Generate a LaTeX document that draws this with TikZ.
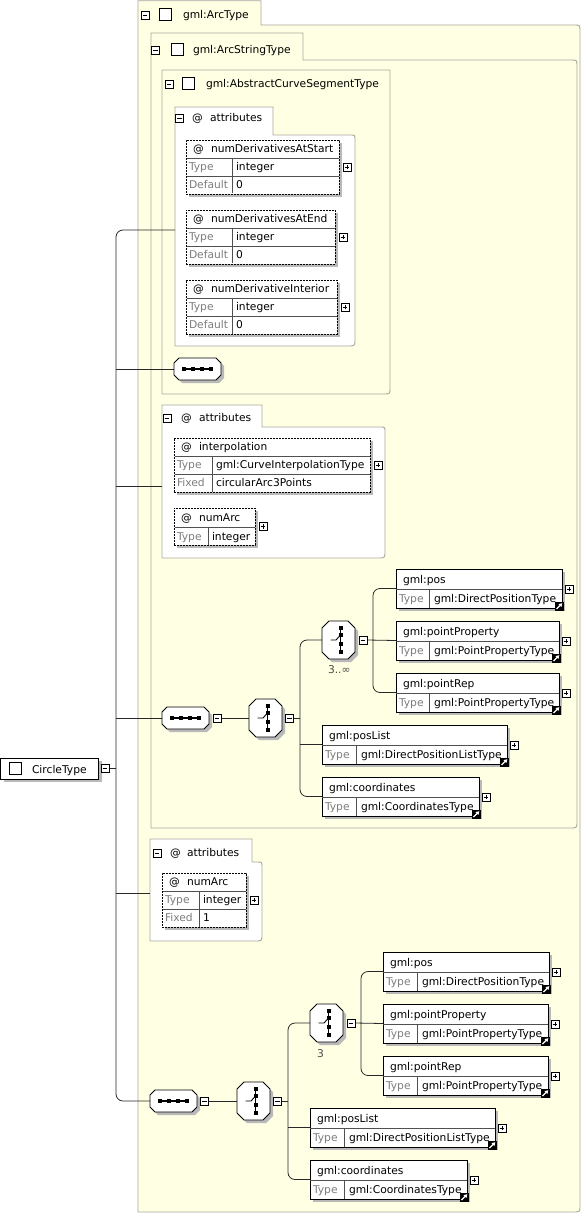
\documentclass[tikz,border=0pt]{standalone}
\usepackage{fontspec}
\setmainfont{DejaVu Sans}
\usetikzlibrary{arrows.meta}
\definecolor{framefill}{RGB}{255,255,228}
\definecolor{frameline}{RGB}{168,168,158}
\definecolor{shadowc}{RGB}{185,185,185}
\definecolor{labelgray}{RGB}{125,125,125}
\definecolor{connc}{RGB}{40,40,40}
\definecolor{innerc}{RGB}{80,80,80}
\pgfdeclarelayer{back}
\pgfdeclarelayer{mid}
\pgfsetlayers{back,mid,main}
\tikzset{
  every node/.style={font=\fontsize{10.7}{12}\selectfont, inner sep=0pt, outer sep=0pt},
  frame/.style={draw=frameline, fill=framefill, line width=0.9pt},
  group/.style={draw=frameline, fill=white, line width=0.9pt},
  conn/.style={draw=connc, line width=0.8pt},
  elbox/.style={draw=black, fill=white, line width=0.8pt},
  attbox/.style={draw=black, fill=white, line width=0.8pt, dash pattern=on 1.6pt off 1.4pt},
  innerline/.style={draw=innerc, line width=0.7pt},
  octo/.style={draw=black, fill=white, line width=0.8pt},
  pmbox/.style={draw=black, fill=white, line width=0.6pt, minimum size=8pt},
  chkbox/.style={draw=black, fill=white, line width=0.8pt, minimum size=11.5pt},
  graytext/.style={text=labelgray},
}
\newcommand\minusb[3]{\node[pmbox] (#1) at (#2,#3) {};
  \draw[line width=0.8pt] ([xshift=-2.4pt]#1.center) -- ([xshift=2.4pt]#1.center);}
\newcommand\plusb[3]{\node[pmbox] (#1) at (#2,#3) {};
  \draw[line width=0.8pt] ([xshift=-2.4pt]#1.center) -- ([xshift=2.4pt]#1.center)
    ([yshift=-2.4pt]#1.center) -- ([yshift=2.4pt]#1.center);}
% element: name x y w col title type
\newcommand\elemx[7]{%
  \fill[shadowc] (#2+3,#3+3) rectangle (#2+#4+3,#3+42);
  \node[elbox, minimum width=#4pt, minimum height=39pt, anchor=north west] (#1) at (#2,#3) {};
  \draw[innerline] (#2,#3+20) -- (#2+#4,#3+20) (#2+#5,#3+20) -- (#2+#5,#3+39);
  \node[anchor=base west] (#1-t) at (#2+7,#3+14) {#6};
  \node[anchor=base west, graytext] (#1-k) at (#2+3,#3+33) {Type};
  \node[anchor=base west] (#1-v) at (#2+#5+5,#3+33) {#7};
  \plusb{#1-p}{#2+#4+7}{#3+20}
  \fill[black] (#2+#4-7.5,#3+32.5) rectangle (#2+#4+2,#3+42);
  \draw[white, line width=1.1pt, -{Triangle[length=3.4pt,width=4pt]}] (#2+#4-5.5,#3+40) -- (#2+#4+0.3,#3+34.2);
}
% attribute (3 rows): name x y w col title key val type
\newcommand\attrx[9]{%
  \fill[shadowc] (#2+3,#3+3) rectangle (#2+#4+3,#3+57);
  \node[attbox, minimum width=#4pt, minimum height=54pt, anchor=north west] (#1) at (#2,#3) {};
  \draw[innerline] (#2+0.5,#3+18) -- (#2+#4-0.5,#3+18) (#2+0.5,#3+36) -- (#2+#4-0.5,#3+36)
    (#2+#5,#3+18) -- (#2+#5,#3+53.5);
  \node[anchor=base west] (#1-a) at (#2+7,#3+12.5) {@};
  \node[anchor=base west] (#1-t) at (#2+25,#3+12.5) {#6};
  \node[anchor=base west, graytext] (#1-k1) at (#2+3,#3+30.5) {Type};
  \node[anchor=base west] (#1-v1) at (#2+#5+4,#3+30.5) {#9};
  \node[anchor=base west, graytext] (#1-k2) at (#2+3,#3+48.5) {#7};
  \node[anchor=base west] (#1-v2) at (#2+#5+4,#3+48.5) {#8};
  \plusb{#1-p}{#2+#4+8}{#3+27}
}
% attribute (2 rows): name x y w col title type
\newcommand\attrxx[7]{%
  \fill[shadowc] (#2+3,#3+3) rectangle (#2+#4+3,#3+40);
  \node[attbox, minimum width=#4pt, minimum height=37pt, anchor=north west] (#1) at (#2,#3) {};
  \draw[innerline] (#2+0.5,#3+19) -- (#2+#4-0.5,#3+19) (#2+#5,#3+19) -- (#2+#5,#3+36.5);
  \node[anchor=base west] (#1-a) at (#2+7,#3+13) {@};
  \node[anchor=base west] (#1-t) at (#2+25,#3+13) {#6};
  \node[anchor=base west, graytext] (#1-k1) at (#2+3,#3+32) {Type};
  \node[anchor=base west] (#1-v1) at (#2+#5+4,#3+32) {#7};
  \plusb{#1-p}{#2+#4+8}{#3+18.5}
}
% octagon: name x y w h c
\newcommand\octx[6]{%
  \begin{scope}[shift={(3,3)}]
  \fill[shadowc] (#2+#6,#3) -- (#2+#4-#6,#3) -- (#2+#4,#3+#6) -- (#2+#4,#3+#5-#6) -- (#2+#4-#6,#3+#5) -- (#2+#6,#3+#5) -- (#2,#3+#5-#6) -- (#2,#3+#6) -- cycle;
  \end{scope}
  \draw[octo] (#2+#6,#3) -- (#2+#4-#6,#3) -- (#2+#4,#3+#6) -- (#2+#4,#3+#5-#6) -- (#2+#4-#6,#3+#5) -- (#2+#6,#3+#5) -- (#2,#3+#5-#6) -- (#2,#3+#6) -- cycle;
  \node[minimum width=#4pt, minimum height=#5pt, anchor=north west] (#1) at (#2,#3) {};
}
\newcommand\seqicon[1]{%
  \draw[line width=1.1pt] ([xshift=-14pt]#1.center) -- ([xshift=14pt]#1.center);
  \foreach \d in {-13.5,-4.5,4.5,13.5}
    \fill ([xshift=\d pt]#1.center) ++(-2pt,-2pt) rectangle ++(4pt,4pt);
}
\newcommand\choiceicon[1]{%
  \draw[line width=1.1pt] ([xshift=2pt,yshift=12pt]#1.center) -- ([xshift=2pt,yshift=-12pt]#1.center);
  \foreach \d in {12,5,-3.5,-12}
    \fill ([xshift=2pt,yshift=\d pt]#1.center) ++(-2pt,-2pt) rectangle ++(4pt,4pt);
  \draw[line width=0.9pt] ([xshift=-8pt]#1.center) -- ([xshift=-2.5pt]#1.center) -- ([xshift=2pt,yshift=5pt]#1.center);
}
\begin{document}
\begin{tikzpicture}[x=1pt,y=-1pt]
\useasboundingbox (0,0) rectangle (582,1214);
% ---------- frames ----------
\begin{pgfonlayer}{back}
\draw[frame] (138,0.8) -- (261,0.8) -- (261,25) -- (574,25) .. controls (580,25) .. (580,31)
  -- (580,1205) .. controls (580,1212) .. (573,1212) -- (138,1212) -- cycle;
\draw[frame] (151,33) -- (303,33) -- (303,60) -- (571,60) .. controls (577,60) .. (577,66)
  -- (577,821) .. controls (577,828) .. (570,828) -- (151,828) -- cycle;
\draw[frame] (162,70) -- (390,70) -- (390,388) .. controls (390,394) .. (384,394) -- (162,394) -- cycle;
\draw[group] (175,107) -- (273,107) -- (273,135) -- (350,135) .. controls (355,135) .. (355,140)
  -- (355,339) .. controls (355,346) .. (348,346) -- (175,346) -- cycle;
\draw[group] (162,405) -- (262,405) -- (262,427) -- (380,427) .. controls (385,427) .. (385,432)
  -- (385,551) .. controls (385,558) .. (378,558) -- (162,558) -- cycle;
\draw[group] (150,839) -- (252,839) -- (252,862) -- (257,862) .. controls (262,862) .. (262,867)
  -- (262,934) .. controls (262,941) .. (255,941) -- (150,941) -- cycle;
\end{pgfonlayer}
% ---------- frame tabs ----------
\minusb{f1m}{145}{15}
\node[chkbox] (f1c) at (165.5,14.5) {};
\node[anchor=base west] (f1t) at (183,18.5) {gml:ArcType};
\minusb{f2m}{155.5}{50}
\node[chkbox] (f2c) at (177.5,49.5) {};
\node[anchor=base west] (f2t) at (193,53.5) {gml:ArcStringType};
\minusb{f3m}{169}{84}
\node[chkbox] (f3c) at (188.5,83.5) {};
\node[anchor=base west] (f3t) at (206,88) {gml:AbstractCurveSegmentType};
% ---------- attribute groups ----------
\minusb{g1m}{179.5}{118}
\node[anchor=base west] (g1a) at (192,122) {@};
\node[anchor=base west] (g1t) at (210,122) {attributes};
\minusb{g2m}{167}{418}
\node[anchor=base west] (g2a) at (181,421.5) {@};
\node[anchor=base west] (g2t) at (199,421.5) {attributes};
\minusb{g3m}{157}{853}
\node[anchor=base west] (g3a) at (170,856.5) {@};
\node[anchor=base west] (g3t) at (187,856.5) {attributes};
\coordinate (g1c) at (175,230);
\coordinate (g2c) at (162,486);
\coordinate (g3c) at (150,893);
% ---------- attributes ----------
\attrx{a1}{186}{140}{153}{46}{numDerivativesAtStart}{Default}{0}{integer}
\attrx{a2}{186}{210}{149}{46}{numDerivativesAtEnd}{Default}{0}{integer}
\attrx{a3}{186}{280}{151}{46}{numDerivativeInterior}{Default}{0}{integer}
\attrx{a4}{174}{438}{196}{38}{interpolation}{Fixed}{circularArc3Points}{gml:CurveInterpolationType}
\attrxx{a5}{174}{508}{81}{34}{numArc}{integer}
\attrx{a6}{162}{873}{84}{37}{numArc}{Fixed}{1}{integer}
% ---------- root ----------
\fill[shadowc] (3.5,761) rectangle (101.5,782);
\node[elbox, minimum width=98pt, minimum height=21pt, anchor=north west] (ct) at (0.5,758) {};
\node[chkbox] (ctc) at (15.5,768.5) {};
\node[anchor=base west] (ctt) at (32,773) {CircleType};
\minusb{ctm}{105}{768.5}
% ---------- compositors ----------
\octx{seq0}{174}{358}{47}{22}{5}
\seqicon{seq0}
\octx{seq1}{162}{707}{47}{22}{5}
\seqicon{seq1}
\minusb{seq1m}{217}{718}
\octx{ch1}{249}{699}{33}{38}{7}
\choiceicon{ch1}
\minusb{ch1m}{289.5}{718}
\octx{ch1b}{322}{621}{33}{38}{7}
\choiceicon{ch1b}
\minusb{ch1bm}{363}{640}
\node[anchor=base west, text=black!70] (ch1bl) at (328,673) {3..∞};
\octx{seq2}{150}{1090}{47}{22}{5}
\seqicon{seq2}
\minusb{seq2m}{204.5}{1101}
\octx{ch2}{237}{1082}{33}{38}{7}
\choiceicon{ch2}
\minusb{ch2m}{277.5}{1101}
\octx{ch2b}{310}{1004}{33}{38}{7}
\choiceicon{ch2b}
\minusb{ch2bm}{351}{1023}
\node[anchor=base west, text=black!70] (ch2bl) at (317,1057) {3};
% ---------- elements ----------
\elemx{pos1}{396}{569}{166}{33}{gml:pos}{gml:DirectPositionType}
\elemx{pp1}{396}{621}{163}{33}{gml:pointProperty}{gml:PointPropertyType}
\elemx{pr1}{396}{673}{163}{33}{gml:pointRep}{gml:PointPropertyType}
\elemx{pl1}{322}{725}{185}{34}{gml:posList}{gml:DirectPositionListType}
\elemx{co1}{322}{777}{157}{34}{gml:coordinates}{gml:CoordinatesType}
\elemx{pos2}{383}{952}{166}{34}{gml:pos}{gml:DirectPositionType}
\elemx{pp2}{383}{1004}{165}{34}{gml:pointProperty}{gml:PointPropertyType}
\elemx{pr2}{383}{1056}{165}{34}{gml:pointRep}{gml:PointPropertyType}
\elemx{pl2}{310}{1108}{185}{34}{gml:posList}{gml:DirectPositionListType}
\elemx{co2}{310}{1160}{157}{34}{gml:coordinates}{gml:CoordinatesType}
% ---------- connectors ----------
\coordinate (trM) at (116,768.5);
\coordinate (tr1) at (300,718);
\coordinate (tr1b) at (373,640);
\coordinate (tr2) at (288,1101);
\coordinate (tr2b) at (361,1023);
\begin{pgfonlayer}{mid}
\draw[conn, rounded corners=7] (g1c) -- (trM |- g1c) -- (trM |- seq2.west) -- (seq2.west);
\draw[conn] (trM |- seq0.west) -- (seq0.west);
\draw[conn] (trM |- g2c) -- (g2c);
\draw[conn] (trM |- seq1.west) -- (seq1.west);
\draw[conn] (trM |- g3c) -- (g3c);
\draw[conn] (ctm.east) -- (trM);
\draw[conn] (seq1m.east) -- (ch1.west);
\draw[conn] (ch1m.east) -- (tr1);
\draw[conn, rounded corners=7] (ch1b.west) -- (tr1 |- ch1b.west) -- (tr1 |- co1.west) -- (co1.west);
\draw[conn] (tr1 |- pl1.west) -- (pl1.west);
\draw[conn, rounded corners=7] (pos1.west) -- (tr1b |- pos1.west) -- (tr1b |- pr1.west) -- (pr1.west);
\draw[conn] (ch1bm.east) -- (pp1.west);
\draw[conn] (seq2m.east) -- (ch2.west);
\draw[conn] (ch2m.east) -- (tr2);
\draw[conn, rounded corners=7] (ch2b.west) -- (tr2 |- ch2b.west) -- (tr2 |- co2.west) -- (co2.west);
\draw[conn] (tr2 |- pl2.west) -- (pl2.west);
\draw[conn, rounded corners=7] (pos2.west) -- (tr2b |- pos2.west) -- (tr2b |- pr2.west) -- (pr2.west);
\draw[conn] (ch2bm.east) -- (pp2.west);
\end{pgfonlayer}
\end{tikzpicture}
\end{document}
